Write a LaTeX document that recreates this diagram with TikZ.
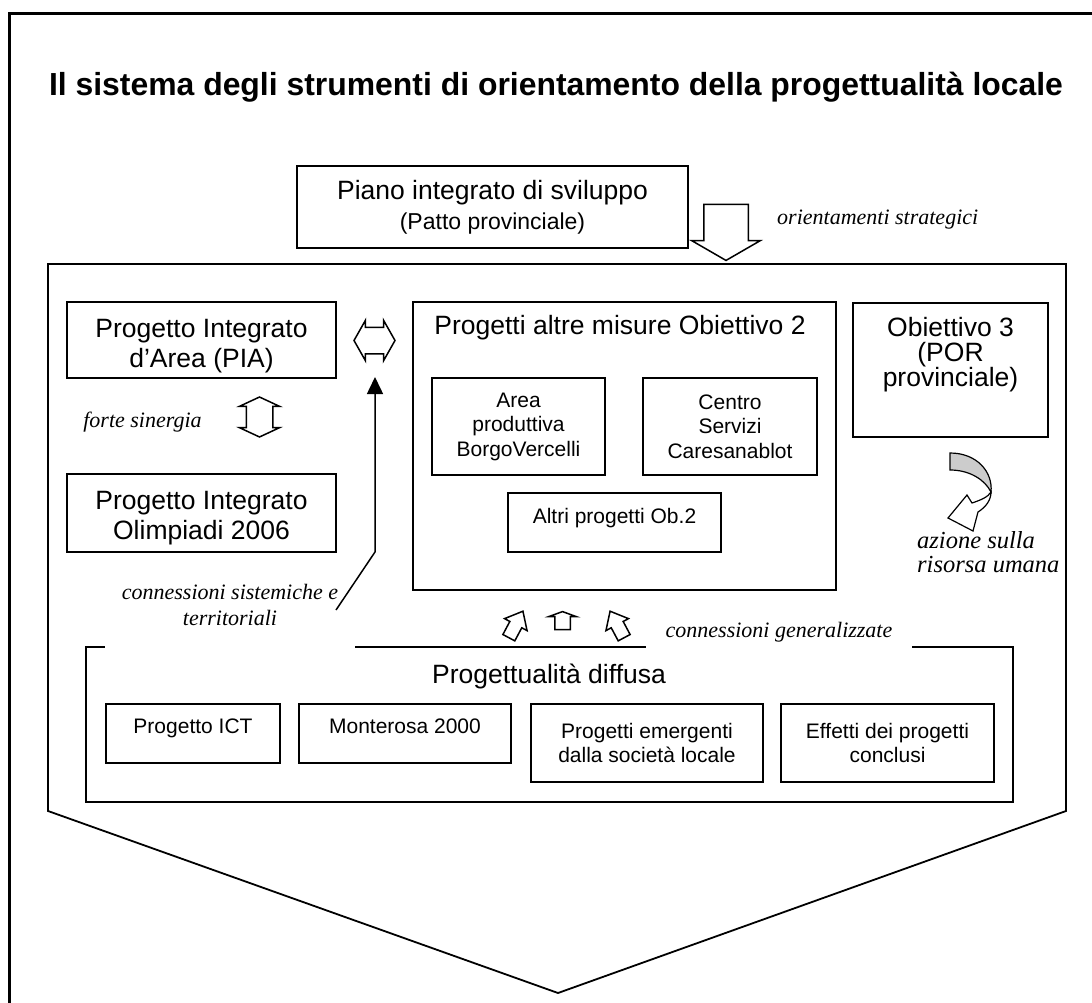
\documentclass[tikz,border=0pt]{standalone}
\usepackage{fontspec}
\setmainfont{Liberation Sans}
\newfontfamily\timesfont{Liberation Serif}
\usetikzlibrary{shapes.arrows,arrows.meta}

\newcommand{\titlesize}{\fontsize{31.9}{36}\selectfont\bfseries}
\newcommand{\bigsize}{\fontsize{26.5}{30}\selectfont}
\newcommand{\midsize}{\fontsize{23}{27}\selectfont}
\newcommand{\smallsize}{\fontsize{21}{24.5}\selectfont}
\newcommand{\notesize}{\timesfont\itshape\fontsize{22}{26}\selectfont}

\tikzstyle{box} = [draw, line width=1.8pt, align=center, inner sep=0pt, font=\bigsize]
\tikzstyle{smallbox} = [box, font=\smallsize]
\tikzstyle{heading} = [align=center, inner sep=0pt, font=\bigsize]
\tikzstyle{note} = [align=center, inner sep=0pt, font=\notesize]
\tikzstyle{hollow} = [draw, line width=1.5pt, fill=white, inner xsep=0pt]

\begin{document}
\begin{tikzpicture}[x=1pt,y=-1pt]
        \useasboundingbox (0,0) rectangle (1092,1003);
        \draw[line width=3pt] (9,1003) -- (9,14) -- (1092,14);

        \node[font=\titlesize]  (title)     at (556,  87)   {Il sistema degli strumenti di orientamento della progettualità locale};

        \node[box, minimum width=391pt, minimum height=82pt]    (piano)     at (492.5, 207)
            {Piano integrato di sviluppo\\{\midsize (Patto provinciale)}};
        \node[note, anchor=west]    (orient)    at (777, 220)   {orientamenti strategici};

        % pentagono
        \draw[line width=1.8pt] (48,264) -- (1066,264) -- (1066,811) -- (558,993) -- (48,811) -- cycle;

        \node[hollow, single arrow, rotate=-90, inner ysep=21.5pt, single arrow head extend=12pt,
              single arrow tip angle=120, minimum height=56pt]  (down)  at (726, 226)   {};

        \node[box, minimum width=269pt, minimum height=76pt]    (pia)       at (201.5, 340) {};
        \node[heading]  (piatext)   at (201.5, 346)     {Progetto Integrato\\d’Area (PIA)};
        \node[box, minimum width=269pt, minimum height=78pt]    (olimp)     at (201.5, 513) {};
        \node[heading]  (olimptext) at (201.5, 518)     {Progetto Integrato\\Olimpiadi 2006};
        \node[note]     (sinlabel)  at (142.5, 422)     {forte sinergia};
        \node[hollow, double arrow, rotate=90, inner ysep=12.5pt, double arrow head extend=7pt,
              double arrow tip angle=130, minimum height=40pt]  (sinergia)  at (259.5, 417) {};
        \node[hollow, double arrow, inner ysep=12.5pt, double arrow head extend=7pt,
              double arrow tip angle=121, minimum height=41pt]  (link)      at (374.5, 340.5) {};

        \node[box, minimum width=423pt, minimum height=288pt]   (ob2)       at (624.5, 446) {};
        \node[heading]  (ob2title)  at (620, 328)       {Progetti altre misure Obiettivo 2};
        \node[smallbox, minimum width=173pt, minimum height=97pt]   (area)      at (518.5, 426.5)   {Area\\produttiva\\BorgoVercelli};
        \node[smallbox, minimum width=174pt, minimum height=97pt]   (centro)    at (730, 426.5)     {Centro\\Servizi\\Caresanablot};
        \node[smallbox, minimum width=213pt, minimum height=59pt, text depth=14pt] (altri) at (614.5, 522.5) {Altri progetti Ob.2};

        \node[box, minimum width=195pt, minimum height=134pt]   (ob3)       at (950.5, 370) {};
        \node[heading, font=\fontsize{26.5}{25}\selectfont]     (ob3text)   at (950.5, 355) {Obiettivo 3\\(POR\\provinciale)};

        % freccia curva
        \filldraw[line width=1.2pt, fill=gray!40] (950,453) .. controls (977,453) and (993,472) .. (991,492)
            .. controls (985,480) and (970,470) .. (950,470) -- cycle;
        \filldraw[line width=1.2pt, fill=white] (991,492) .. controls (991,500) and (986,507) .. (978,512)
            -- (973,531) -- (948,518) -- (967,495) -- (972,503) .. controls (981,500) and (988,497) .. (991,492) -- cycle;
        \node[note, align=left, anchor=west, font=\timesfont\itshape\fontsize{24.5}{24}\selectfont]
            (azione)    at (917, 552)   {azione sulla\\risorsa umana};

        \node[box, minimum width=927pt, minimum height=155pt]   (diffusa)   at (549.5, 724.5) {};
        \node[heading]  (difftitle) at (549, 676)       {Progettualità diffusa};
        \node[smallbox, minimum width=174pt, minimum height=59pt, text depth=14pt] (ict)   at (193, 733.5)   {Progetto ICT};
        \node[smallbox, minimum width=212pt, minimum height=59pt, text depth=14pt] (monte) at (405, 733.5)   {Monterosa 2000};
        \node[smallbox, minimum width=232pt, minimum height=78pt]   (emerg)     at (647, 743)   {Progetti emergenti\\dalla società locale};
        \node[smallbox, minimum width=213pt, minimum height=78pt]   (effetti)   at (887.5, 743) {Effetti dei progetti\\conclusi};

        \node[note, fill=white, minimum width=250pt, minimum height=86pt]  (sistlabel) at (230, 605)  {connessioni sistemiche e\\territoriali};
        \node[note, fill=white, minimum width=266pt, minimum height=34pt]  (genlabel)  at (779, 632)  {connessioni generalizzate};

        \node[hollow, single arrow, rotate=62, inner ysep=6pt, single arrow head extend=6pt,
              single arrow tip angle=80, minimum height=30pt]   (upleft)    at (514, 628)   {};
        \node[hollow, single arrow, rotate=90, inner ysep=7pt, single arrow head extend=6pt,
              single arrow tip angle=140, minimum height=18pt]  (up)        at (562.5, 622) {};
        \node[hollow, single arrow, rotate=118, inner ysep=6pt, single arrow head extend=6pt,
              single arrow tip angle=80, minimum height=30pt]   (upright)   at (619, 628)   {};

        \coordinate (sfoot) at (336, 610);
        \coordinate (sbend) at (375, 552);
        \coordinate (stip)  at (375, 377);
        \draw[line width=1.5pt, -{Triangle[length=17pt,width=16pt]}] (sfoot) -- (sbend) -- (stip);
\end{tikzpicture}
\end{document}
